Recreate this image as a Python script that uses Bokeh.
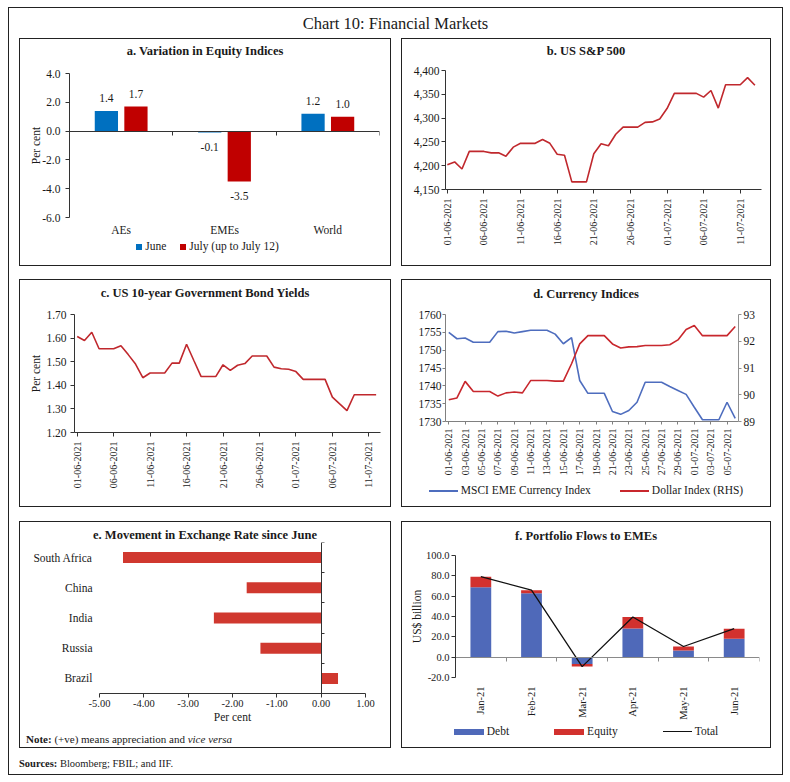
import numpy as np
import pandas as pd
from bokeh.plotting import figure
from bokeh.models import LinearAxis, FixedTicker, Range1d, NumeralTickFormatter, Div
from bokeh.layouts import column, row
from bokeh.embed import file_html
from bokeh.resources import INLINE
from bokeh.core.properties import value

FONT = "Liberation Serif"
INK = "#1a1a1a"
AX = "#333333"

# ---------------- data ----------------
# a. Variation in Equity Indices (per cent)
eq_regions = ["AEs", "EMEs", "World"]
eq_june = [1.4, -0.1, 1.2]
eq_july = [1.7, -3.5, 1.0]

# b. US S&P 500 (01-06-2021 .. 13-07-2021)
sp_dates = list(pd.date_range("2021-06-01", "2021-07-13").strftime("%d-%m-%Y"))
sp500 = [4202, 4208, 4193, 4230, 4230, 4230, 4227, 4227, 4220, 4239, 4247, 4247, 4247,
         4255, 4247, 4224, 4222, 4166, 4166, 4166, 4225, 4246, 4242, 4266, 4281, 4281,
         4281, 4291, 4292, 4298, 4320, 4352, 4352, 4352, 4352, 4344, 4358, 4321, 4370,
         4370, 4370, 4385, 4369]
sp_ticks = [4150, 4200, 4250, 4300, 4350, 4400]

# c. US 10-year Government Bond Yields (01-06-2021 .. 12-07-2021)
yl_dates = list(pd.date_range("2021-06-01", "2021-07-12").strftime("%d-%m-%Y"))
us10y = [1.607, 1.590, 1.625, 1.555, 1.555, 1.555, 1.568, 1.530, 1.490, 1.432, 1.452,
         1.452, 1.452, 1.494, 1.494, 1.574, 1.505, 1.437, 1.437, 1.437, 1.487, 1.463,
         1.485, 1.492, 1.524, 1.524, 1.524, 1.477, 1.470, 1.468, 1.458, 1.425, 1.425,
         1.425, 1.425, 1.350, 1.321, 1.293, 1.360, 1.360, 1.360, 1.360]
yl_ticks = [1.20, 1.30, 1.40, 1.50, 1.60, 1.70]

# d. Currency Indices (01-06-2021 .. 06-07-2021)
cu_dates = list(pd.date_range("2021-06-01", "2021-07-06").strftime("%d-%m-%Y"))
msci_eme = [1755.0, 1753.2, 1753.4, 1752.2, 1752.2, 1752.2, 1755.2, 1755.3, 1754.8,
            1755.2, 1755.6, 1755.6, 1755.6, 1754.5, 1751.8, 1753.5, 1741.5, 1737.9,
            1737.9, 1737.9, 1732.8, 1732.0, 1733.1, 1735.4, 1741.0, 1741.0, 1741.0,
            1739.8, 1738.7, 1737.6, 1734.0, 1730.5, 1730.5, 1730.5, 1735.4, 1730.9]
dollar_index = [89.81, 89.88, 90.50, 90.12, 90.12, 90.12, 89.95, 90.07, 90.10, 90.07,
                90.53, 90.53, 90.53, 90.51, 90.51, 91.16, 91.90, 92.21, 92.21, 92.21,
                91.90, 91.75, 91.79, 91.80, 91.84, 91.84, 91.84, 91.87, 92.05, 92.44,
                92.59, 92.21, 92.21, 92.21, 92.21, 92.55]
msci_ticks = [1730, 1735, 1740, 1745, 1750, 1755, 1760]
dxy_ticks = [89, 90, 91, 92, 93]

# e. Movement in Exchange Rate since June (per cent)
fx_countries = ["South Africa", "China", "India", "Russia", "Brazil"]
fx_change = [-4.47, -1.68, -2.42, -1.37, 0.38]
fx_ticks = [-5, -4, -3, -2, -1, 0, 1]

# f. Portfolio Flows to EMEs (US$ billion)
pf_months = ["Jan-21", "Feb-21", "Mar-21", "Apr-21", "May-21", "Jun-21"]
pf_debt = [68.7, 62.9, -6.8, 28.2, 6.5, 18.0]
pf_equity = [10.5, 3.0, -2.5, 11.3, 4.0, 10.0]
pf_total = [79.2, 65.9, -9.3, 39.5, 10.5, 28.0]
pf_ticks = [-20, 0, 20, 40, 60, 80, 100]

C_JUNE, C_JULY = "#0070C0", "#C00000"
C_LINE = "#C0282D"
C_MSCI, C_DXY = "#4E6DBE", "#C8272D"
C_FX = "#D0382F"
C_DEBT, C_EQ, C_TOT = "#4F69B9", "#D2312E", "#111111"


# ---------------- helpers ----------------
def base_fig(w, h, xr, yr, mb):
    p = figure(width=w, height=h, x_range=xr, y_range=yr, output_backend="svg",
               toolbar_location=None,
               min_border_left=mb[0], min_border_right=mb[1],
               min_border_top=mb[2], min_border_bottom=mb[3],
               outline_line_color=None, background_fill_color="white",
               border_fill_color="white")
    p.xgrid.visible = False
    p.ygrid.visible = False
    return p


def style_axis(ax, size="11.5px", color=AX, tick_out=4, standoff=4):
    ax.major_label_text_font = FONT
    ax.major_label_text_font_size = size
    ax.major_label_text_color = INK
    ax.axis_label_text_font = FONT
    ax.axis_label_text_font_size = "11.5px"
    ax.axis_label_text_font_style = "normal"
    ax.axis_label_text_color = INK
    ax.axis_line_color = color
    ax.major_tick_line_color = color
    ax.minor_tick_line_color = None
    ax.major_tick_in = 0
    ax.major_tick_out = tick_out
    ax.major_label_standoff = standoff


def title_div(text, w, h, lh):
    return Div(text=text, width=w, height=h, margin=(0, 0, 0, 0),
               styles={"font-family": FONT, "font-size": "12.5px", "font-weight": "bold",
                       "text-align": "center", "line-height": f"{lh}px", "color": INK,
                       "width": f"{w}px"})


def legend_div(html, w, h, lh, pad_left=0):
    return Div(text=html, width=w, height=h, margin=(0, 0, 0, 0),
               styles={"font-family": FONT, "font-size": "11.5px", "text-align": "center",
                       "line-height": f"{lh}px", "color": INK, "width": f"{w}px",
                       "padding-left": f"{pad_left}px", "box-sizing": "border-box",
                       "white-space": "nowrap"})


def swatch(color, w, h, ml):
    return (f'<span style="display:inline-block;width:{w}px;height:{h}px;'
            f'background:{color};vertical-align:middle;margin:0 3px 1px {ml}px"></span>')


BOX = {"border": "1px solid #222"}

# ---------------- a ----------------
pa = base_fig(370, 177, Range1d(0, 3), Range1d(-6, 4), (49, 11, 12, 21))
xa = np.arange(len(eq_regions)) + 0.5
pa.vbar(x=xa - 0.143, bottom=0, top=eq_june, width=0.225, fill_color=C_JUNE, line_color=None)
pa.vbar(x=xa + 0.143, bottom=0, top=eq_july, width=0.225, fill_color=C_JULY, line_color=None)
for xs, vals in ((xa - 0.143, eq_june), (xa + 0.143, eq_july)):
    pa.text(x=xs, y=vals, text=[f"{v:.1f}" for v in vals],
            y_offset=[-12.5 if v >= 0 else 14 for v in vals],
            text_align="center", text_baseline="middle",
            text_font=value(FONT), text_font_size="11.5px", text_color=INK)
style_axis(pa.yaxis[0], standoff=5)
pa.yaxis.ticker = FixedTicker(ticks=[-6, -4, -2, 0, 2, 4])
pa.yaxis.formatter = NumeralTickFormatter(format="0.0")
pa.yaxis.axis_label = "Per cent"
pa.yaxis.axis_label_standoff = -3
style_axis(pa.xaxis[0], tick_out=0, standoff=6)
pa.xaxis.axis_line_color = None
pa.xaxis.ticker = FixedTicker(ticks=[float(v) for v in xa])
pa.xaxis.major_label_overrides = {float(v): n for v, n in zip(xa, eq_regions)}
za = LinearAxis(fixed_location=0, ticker=FixedTicker(ticks=list(range(len(eq_regions) + 1))))
style_axis(za)
za.major_label_overrides = {i: "" for i in range(len(eq_regions) + 1)}
pa.add_layout(za, "below")
box_a = column(
    title_div("a. Variation in Equity Indices", 370, 22, 25),
    pa,
    legend_div(swatch(C_JUNE, 6, 6, 0) + "June" + swatch(C_JULY, 6, 6, 14)
               + "July (up to July 12)", 370, 27, 16, 5),
    margin=(0, 0, 0, 10), styles=BOX)

# ---------------- b ----------------
pb = base_fig(368, 204, Range1d(-0.25, 42.9), Range1d(4150, 4400), (43, 9, 9, 76))
pb.line(x=np.arange(len(sp500)), y=sp500, line_color=C_LINE, line_width=1.6)
style_axis(pb.xaxis[0], size="10px", standoff=5)
bt = list(range(0, len(sp_dates), 5))
pb.xaxis.ticker = FixedTicker(ticks=bt)
pb.xaxis.major_label_overrides = {i: sp_dates[i] for i in bt}
pb.xaxis.major_label_orientation = np.pi / 2
style_axis(pb.yaxis[0], standoff=2)
pb.yaxis.ticker = FixedTicker(ticks=sp_ticks)
pb.yaxis.formatter = NumeralTickFormatter(format="0,0")
box_b = column(title_div("b. US S&amp;P 500", 368, 22, 25), pb,
               margin=(0, 11, 0, 10), styles=BOX)

# ---------------- c ----------------
pc = base_fig(370, 204, Range1d(-0.37, 41.6), Range1d(1.2, 1.7), (54, 10, 12, 74))
pc.line(x=np.arange(len(us10y)), y=us10y, line_color=C_LINE, line_width=1.6)
style_axis(pc.xaxis[0], size="10px", standoff=5)
ct = list(range(0, len(yl_dates), 5))
pc.xaxis.ticker = FixedTicker(ticks=ct)
pc.xaxis.major_label_overrides = {i: yl_dates[i] for i in ct}
pc.xaxis.major_label_orientation = np.pi / 2
style_axis(pc.yaxis[0], standoff=4)
pc.yaxis.ticker = FixedTicker(ticks=yl_ticks)
pc.yaxis.formatter = NumeralTickFormatter(format="0.00")
pc.yaxis.axis_label = "Per cent"
pc.yaxis.axis_label_standoff = 1
box_c = column(title_div("c. US 10-year Government Bond Yields", 370, 22, 27), pc,
               margin=(0, 0, 0, 10), styles=BOX)

# ---------------- d ----------------
pdd = base_fig(368, 178, Range1d(-0.4, 35.4), Range1d(1730, 1760), (43, 32, 12, 59))
pdd.extra_y_ranges = {"dxy": Range1d(89, 93)}
pdd.line(x=np.arange(len(msci_eme)), y=msci_eme, line_color=C_MSCI, line_width=1.6)
pdd.line(x=np.arange(len(dollar_index)), y=dollar_index, line_color=C_DXY,
         line_width=1.6, y_range_name="dxy")
style_axis(pdd.xaxis[0], size="10px", color="#808080", tick_out=3, standoff=4)
dt = list(range(0, len(cu_dates), 2))
pdd.xaxis.ticker = FixedTicker(ticks=dt)
pdd.xaxis.major_label_overrides = {i: cu_dates[i] for i in dt}
pdd.xaxis.major_label_orientation = np.pi / 2
style_axis(pdd.yaxis[0], color="#808080", tick_out=3, standoff=1)
pdd.yaxis.ticker = FixedTicker(ticks=msci_ticks)
axr = LinearAxis(y_range_name="dxy", ticker=FixedTicker(ticks=dxy_ticks))
style_axis(axr, color="#909090", tick_out=3, standoff=2)
pdd.add_layout(axr, "right")
box_d = column(
    title_div("d. Currency Indices", 368, 22, 28),
    pdd,
    legend_div(swatch(C_MSCI, 29, 2, 0) + "MSCI EME Currency Index"
               + swatch(C_DXY, 29, 2, 29) + "Dollar Index (RHS)", 368, 26, 20),
    margin=(0, 11, 0, 10), styles=BOX)

# ---------------- e ----------------
pe = base_fig(370, 191, Range1d(-5, 1), Range1d(0, len(fx_countries)), (79, 25, 2, 38))
ye = np.arange(len(fx_countries))[::-1] + 0.5
pe.hbar(y=ye, left=0, right=fx_change, height=0.365, fill_color=C_FX, line_color=None)
style_axis(pe.xaxis[0], size="10.5px", standoff=2)
pe.xaxis.ticker = FixedTicker(ticks=fx_ticks)
pe.xaxis.formatter = NumeralTickFormatter(format="0.00")
pe.xaxis.axis_label = "Per cent"
pe.xaxis.axis_label_standoff = 1
style_axis(pe.yaxis[0], tick_out=0, standoff=7)
pe.yaxis.axis_line_color = None
pe.yaxis.ticker = FixedTicker(ticks=[float(v) for v in ye])
pe.yaxis.major_label_overrides = {float(v): n for v, n in zip(ye, fx_countries)}
zy = LinearAxis(fixed_location=0, ticker=FixedTicker(ticks=list(range(len(fx_countries) + 1))))
style_axis(zy, tick_out=0)
zy.major_tick_in = 3
zy.major_label_overrides = {i: "" for i in range(len(fx_countries) + 1)}
pe.add_layout(zy, "left")
note = Div(text="<b>Note:</b> (+ve) means appreciation and <i>vice versa</i>",
           width=370, height=16, margin=(0, 0, 0, 0),
           styles={"font-family": FONT, "font-size": "11px", "line-height": "16px",
                   "padding-left": "6px", "color": INK, "box-sizing": "border-box"})
box_e = column(title_div("e. Movement in Exchange Rate since June", 370, 18, 26), pe, note,
               margin=(0, 0, 0, 10), styles=BOX)

# ---------------- f ----------------
pf = base_fig(368, 178, Range1d(0, len(pf_months)), Range1d(-20, 100), (53, 11, 11, 43))
xf = np.arange(len(pf_months)) + 0.5
debt = np.array(pf_debt)
equity = np.array(pf_equity)
pf.vbar(x=xf, bottom=0, top=debt, width=0.41, fill_color=C_DEBT, line_color=None)
pf.vbar(x=xf, bottom=debt, top=debt + equity, width=0.41, fill_color=C_EQ, line_color=None)
pf.line(x=xf, y=pf_total, line_color=C_TOT, line_width=1.3)
style_axis(pf.yaxis[0], size="10.5px", standoff=2)
pf.yaxis.ticker = FixedTicker(ticks=pf_ticks)
pf.yaxis.formatter = NumeralTickFormatter(format="0.0")
pf.yaxis.axis_label = "US$ billion"
pf.yaxis.axis_label_standoff = 0
style_axis(pf.xaxis[0], size="10.5px", tick_out=0, standoff=9)
pf.xaxis.axis_line_color = None
pf.xaxis.ticker = FixedTicker(ticks=[float(v) for v in xf])
pf.xaxis.major_label_overrides = {float(v): n for v, n in zip(xf, pf_months)}
pf.xaxis.major_label_orientation = np.pi / 2
zf = LinearAxis(fixed_location=0, ticker=FixedTicker(ticks=list(range(len(pf_months) + 1))))
style_axis(zf, color="#8a8a8a")
zf.major_label_overrides = {i: "" for i in range(len(pf_months) + 1)}
pf.add_layout(zf, "below")
box_f = column(
    title_div("f. Portfolio Flows to EMEs", 368, 22, 28),
    pf,
    legend_div(swatch(C_DEBT, 30, 6, 0) + "Debt" + swatch(C_EQ, 30, 6, 45) + "Equity"
               + swatch(C_TOT, 29, 1, 45) + "Total", 368, 25, 19),
    margin=(0, 11, 0, 10), styles=BOX)

# ---------------- page ----------------
head = Div(text="Chart 10: Financial Markets", width=773, height=30, margin=(0, 0, 0, 0),
           styles={"font-family": FONT, "font-size": "16.5px", "line-height": "32px",
                   "text-align": "center", "color": INK, "width": "773px"})
src = Div(text="<b>Sources:</b> Bloomberg; FBIL; and IIF.", width=773, height=26,
          margin=(0, 0, 0, 0),
          styles={"font-family": FONT, "font-size": "10.5px", "line-height": "32px",
                  "padding-left": "10px", "color": INK, "box-sizing": "border-box"})

r1 = row(box_a, box_b, margin=(0, 0, 0, 0))
r2 = row(box_c, box_d, margin=(13, 0, 0, 0))
r3 = row(box_e, box_f, margin=(14, 0, 0, 0))
page = column(head, r1, r2, r3, src, margin=(7, 0, 0, 8),
              styles={"border": "1px solid #222"})

open("out.html", "w").write(file_html(page, INLINE))
